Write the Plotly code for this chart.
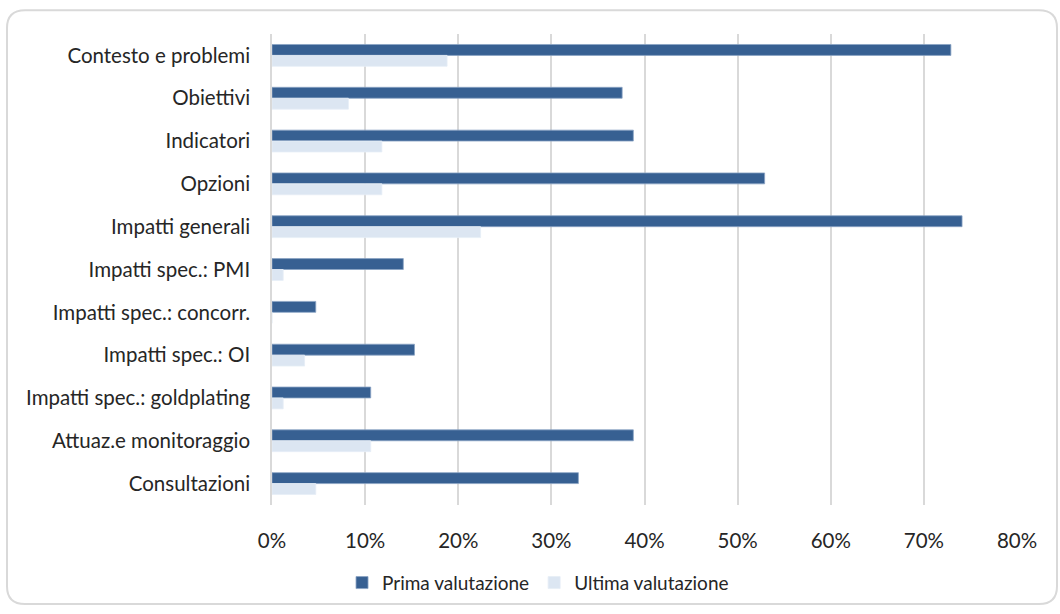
import plotly.graph_objects as go

# Assessment sections, top to bottom
categories = [
    "Contesto e problemi",
    "Obiettivi",
    "Indicatori",
    "Opzioni",
    "Impatti generali",
    "Impatti spec.: PMI",
    "Impatti spec.: concorr.",
    "Impatti spec.: OI",
    "Impatti spec.: goldplating",
    "Attuaz.e monitoraggio",
    "Consultazioni",
]

# Share of shortcomings (fraction) at the first and at the last assessment
prima = [0.729, 0.376, 0.388, 0.529, 0.741, 0.141, 0.047, 0.153, 0.106, 0.388, 0.329]
ultima = [0.188, 0.082, 0.118, 0.118, 0.224, 0.012, 0.0, 0.035, 0.012, 0.106, 0.047]

x_ticks = [0, 0.1, 0.2, 0.3, 0.4, 0.5, 0.6, 0.7, 0.8]
x_labels = ["0%", "10%", "20%", "30%", "40%", "50%", "60%", "70%", "80%"]

FONT = "Lato, Carlito, 'Open Sans', sans-serif"
TEXT = "#262626"

W, H = 1060, 614
ML, MR, MT, MB = 272, 43, 34, 104

fig = go.Figure()
fig.add_trace(go.Bar(
    y=categories, x=prima, orientation="h", name="Prima valutazione",
    marker=dict(color="#376092", line=dict(color="#8aa3c4", width=0.8)),
))
fig.add_trace(go.Bar(
    y=categories, x=ultima, orientation="h", name="Ultima valutazione",
    marker=dict(color="#dce6f2", line=dict(color="#e6edf6", width=0.8)),
))

# rounded frame around the whole chart, expressed in plot-fraction units
pw, ph = W - ML - MR, H - MT - MB


def px(x):
    return (x - ML) / pw


def py(y):
    return (H - MB - y) / ph


L, R, T, B, r = 7, 1057, 10, 610, 18
frame = (
    f"M {px(L + r)},{py(T)} L {px(R - r)},{py(T)} "
    f"Q {px(R)},{py(T)} {px(R)},{py(T + r)} "
    f"L {px(R)},{py(B - r)} Q {px(R)},{py(B)} {px(R - r)},{py(B)} "
    f"L {px(L + r)},{py(B)} Q {px(L)},{py(B)} {px(L)},{py(B - r)} "
    f"L {px(L)},{py(T + r)} Q {px(L)},{py(T)} {px(L + r)},{py(T)} Z"
)

fig.update_layout(
    width=W, height=H,
    margin=dict(l=ML, r=MR, t=MT, b=MB),
    paper_bgcolor="white", plot_bgcolor="white",
    barmode="group", bargap=0.49, bargroupgap=0,
    font=dict(family=FONT, size=20.5, color=TEXT),
    showlegend=True,
    legend=dict(
        orientation="h", x=0.094, xanchor="left", y=-0.165, yanchor="middle",
        font=dict(family=FONT, size=19, color=TEXT),
        itemwidth=30, traceorder="normal", bgcolor="rgba(0,0,0,0)",
    ),
    shapes=[dict(
        type="path", xref="paper", yref="paper", path=frame,
        line=dict(color="#d9d9d9", width=2), fillcolor="rgba(0,0,0,0)",
        layer="below",
    )],
)

fig.update_xaxes(
    range=[0, 0.8], tickvals=x_ticks, ticktext=x_labels,
    showgrid=True, gridcolor="#d9d9d9", gridwidth=1.5,
    zeroline=False, showline=False, ticks="",
    tickfont=dict(family=FONT, size=20.5, color=TEXT),
    ticklabelstandoff=21,
)
fig.update_yaxes(
    autorange="reversed", showgrid=False, zeroline=False,
    showline=True, linecolor="#d9d9d9", linewidth=1.5, ticks="",
    tickfont=dict(family=FONT, size=20.5, color=TEXT),
    ticklabelstandoff=16,
)

fig.write_html("out.html")
